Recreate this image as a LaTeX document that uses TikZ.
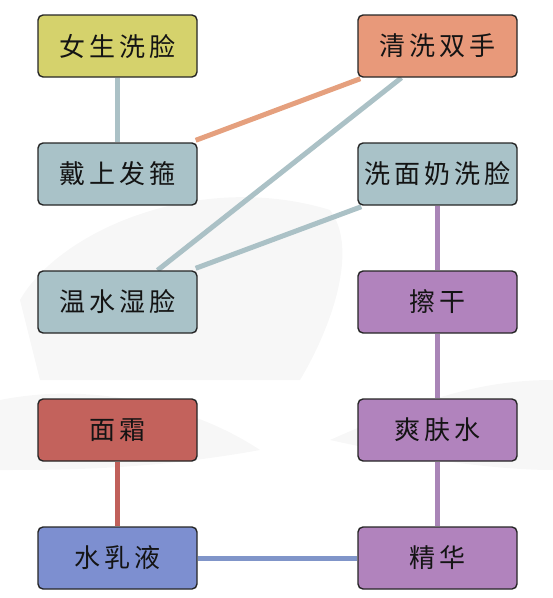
\documentclass[tikz,border=0pt]{standalone}
\usepackage{fontspec}
\usetikzlibrary{backgrounds}
\newfontfamily\cjk[LetterSpace=16]{Noto Sans CJK SC}
\pgfdeclarelayer{wash}
\pgfsetlayers{wash,background,main}
\begin{document}
\begin{tikzpicture}[x=1pt,y=-1pt,
  box/.style={draw=black!85,line width=1.4pt,rounded corners=5pt,minimum width=159pt,minimum height=62pt,inner sep=0pt,font=\cjk\fontsize{26}{26}\selectfont,text=black!92},
  link/.style={line width=5pt}]
\definecolor{cyel}{HTML}{D5D26C}
\definecolor{corg}{HTML}{E8997A}
\definecolor{cgry}{HTML}{A9C2C8}
\definecolor{cpur}{HTML}{B183BD}
\definecolor{cred}{HTML}{C3625C}
\definecolor{cblu}{HTML}{7D8FD0}
\definecolor{lgry}{HTML}{ABC1C6}
\definecolor{lorg}{HTML}{E5A07E}
\definecolor{lpur}{HTML}{A985B7}
\definecolor{lred}{HTML}{C0605A}
\definecolor{lblu}{HTML}{8095C9}
\useasboundingbox (0,0) rectangle (553,598);
% nodes
\node[box,fill=cyel] (a) at (117.5,46) {女生洗脸};
\node[box,fill=corg] (b) at (437.5,46) {清洗双手};
\node[box,fill=cgry] (c) at (117.5,174) {戴上发箍};
\node[box,fill=cgry] (d) at (437.5,174) {洗面奶洗脸};
\node[box,fill=cgry] (e) at (117.5,302) {温水湿脸};
\node[box,fill=cpur] (f) at (437.5,302) {擦干};
\node[box,fill=cred] (g) at (117.5,430) {面霜};
\node[box,fill=cpur] (h) at (437.5,430) {爽肤水};
\node[box,fill=cblu] (i) at (117.5,558) {水乳液};
\node[box,fill=cpur] (j) at (437.5,558) {精华};
% faint background wash
\begin{pgfonlayer}{wash}
\fill[black!3] (20,300) .. controls (60,230) and (200,170) .. (330,210) .. controls (360,250) and (330,330) .. (300,380) -- (40,380) -- cycle;
\fill[black!3] (0,400) .. controls (100,380) and (200,410) .. (260,450) .. controls (150,470) and (60,470) .. (0,470) -- cycle;
\fill[black!3] (553,380) .. controls (480,380) and (420,400) .. (330,440) .. controls (420,460) and (500,470) .. (553,470) -- cycle;
\end{pgfonlayer}
% connectors
\begin{pgfonlayer}{background}
\draw[link,lgry] (a.south) -- (c.north);
\draw[link,lorg] ([shift={(3pt,-1pt)}]b.south west) -- ([shift={(-2pt,2pt)}]c.north east);
\draw[link,lgry] ([xshift=-36pt]b.south) -- ([xshift=40pt]e.north);
\draw[link,lgry] ([shift={(4pt,-1pt)}]d.south west) -- ([shift={(-2pt,2pt)}]e.north east);
\draw[link,lpur] (d.south) -- (f.north);
\draw[link,lpur] (f.south) -- (h.north);
\draw[link,lpur] (h.south) -- (j.north);
\draw[link,lred] (g.south) -- (i.north);
\draw[link,lblu] (i.east) -- (j.west);
\end{pgfonlayer}
\end{tikzpicture}
\end{document}
